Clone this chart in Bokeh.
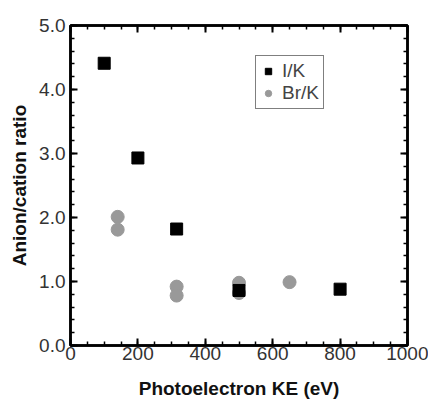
from bokeh.plotting import figure
from bokeh.models import (LinearAxis, Range1d, FixedTicker, PrintfTickFormatter,
                          CustomJSTickFormatter, Legend, LegendItem, ColumnDataSource)
from bokeh.embed import file_html
from bokeh.resources import INLINE

# data
ik_ke = [100, 200, 315, 500, 800]
ik_ratio = [4.41, 2.93, 1.82, 0.86, 0.88]
brk_ke = [140, 140, 315, 315, 500, 500, 650]
brk_ratio = [2.01, 1.81, 0.92, 0.78, 0.98, 0.82, 0.99]

x_major = [0, 200, 400, 600, 800, 1000]
x_minor = [v for v in range(0, 1001, 50)]
y_major = [0.0, 1.0, 2.0, 3.0, 4.0, 5.0]
y_minor = [round(v * 0.2, 1) for v in range(0, 26)]

FONT = "Liberation Sans"

p = figure(width=428, height=401, output_backend="svg", toolbar_location=None,
           x_range=Range1d(0, 1000), y_range=Range1d(0, 5.0),
           min_border_left=70, min_border_right=21, min_border_top=25, min_border_bottom=55)
p.background_fill_color = "white"
p.border_fill_color = "white"
p.grid.visible = False
p.outline_line_color = "black"
p.outline_line_width = 2.5

def style(ax):
    ax.major_tick_in = 7
    ax.major_tick_out = 0
    ax.minor_tick_in = 4
    ax.minor_tick_out = 0
    ax.major_tick_line_width = 2
    ax.minor_tick_line_width = 1.5
    ax.axis_line_width = 2.5
    ax.axis_line_color = "black"
    ax.major_label_text_font = FONT
    ax.major_label_text_font_size = "19px"
    ax.major_label_text_color = "#333333"
    ax.axis_label_text_font = FONT
    ax.axis_label_text_font_size = "19px"
    ax.axis_label_text_font_style = "bold"
    ax.axis_label_text_color = "#111111"

xa = p.xaxis[0]
xa.ticker = FixedTicker(ticks=x_major, minor_ticks=x_minor)
xa.axis_label = "Photoelectron KE (eV)"
xa.major_label_standoff = 1
xa.axis_label_standoff = 15
style(xa)

ya = p.yaxis[0]
ya.ticker = FixedTicker(ticks=y_major, minor_ticks=y_minor)
ya.formatter = PrintfTickFormatter(format="%.1f")
ya.axis_label = "Anion/cation ratio"
ya.major_label_standoff = 5
ya.axis_label_standoff = 6
style(ya)

blank = CustomJSTickFormatter(code="return ''")
top = LinearAxis(ticker=FixedTicker(ticks=x_major, minor_ticks=x_minor), formatter=blank)
style(top)
p.add_layout(top, "above")
right = LinearAxis(ticker=FixedTicker(ticks=y_major, minor_ticks=y_minor), formatter=blank)
style(right)
p.add_layout(right, "right")

src_i = ColumnDataSource(dict(x=ik_ke, y=ik_ratio))
src_b = ColumnDataSource(dict(x=brk_ke, y=brk_ratio))

rb = p.scatter("x", "y", source=src_b, marker="circle", size=13,
               fill_color="#999999", line_color="#999999")
ri = p.scatter("x", "y", source=src_i, marker="square", size=12,
               fill_color="black", line_color="black")

legend = Legend(items=[LegendItem(label="I/K", renderers=[ri]),
                       LegendItem(label="Br/K", renderers=[rb])])
legend.label_text_font = FONT
legend.label_text_font_size = "19px"
legend.border_line_color = "black"
legend.border_line_width = 1.5
legend.padding = 4
legend.spacing = 0
legend.glyph_width = 16
legend.glyph_height = 20
legend.label_height = 20
legend.label_standoff = 6
legend.margin = 0
p.add_layout(legend, "center")
legend.location = (185, 236)

open("out.html", "w").write(file_html(p, INLINE))
